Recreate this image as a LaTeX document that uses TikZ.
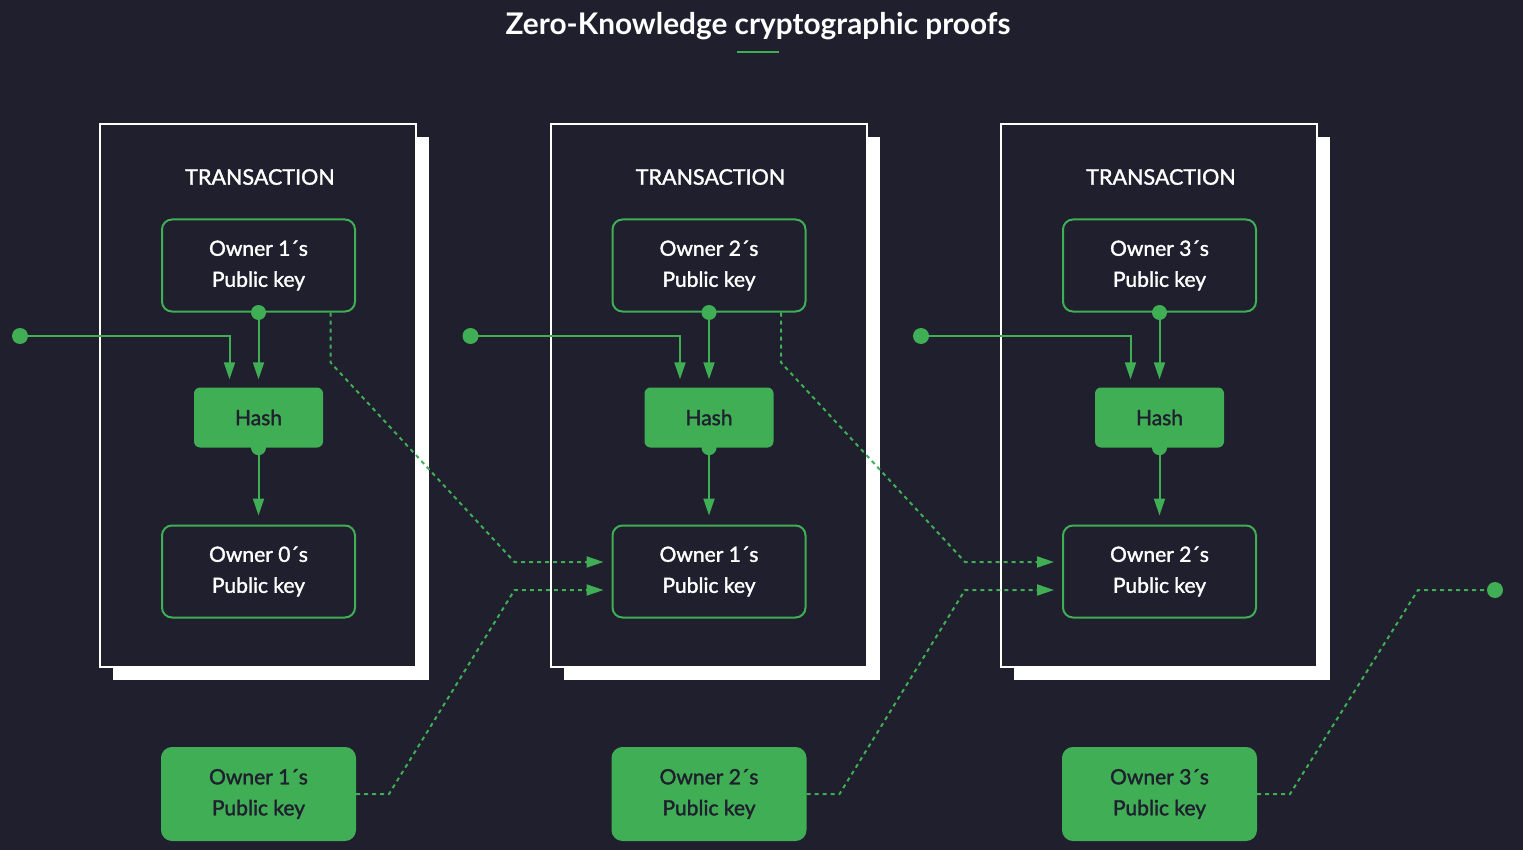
\documentclass[tikz,border=0pt]{standalone}
\usepackage{fontspec}
\setmainfont{Lato}[UprightFeatures={FakeBold=1.6}]
\usetikzlibrary{arrows.meta, calc}
\definecolor{bgdark}{HTML}{1F1F2D}
\definecolor{zkgreen}{HTML}{3FAE55}
\tikzset{
  keybox/.style={draw=zkgreen, line width=2pt, rounded corners=10pt, minimum width=193pt,
    minimum height=92pt, align=center, text=white, font=\fontsize{21}{31}\selectfont},
  fillbox/.style={keybox, fill=zkgreen, text=bgdark},
  hashbox/.style={fill=zkgreen, rounded corners=6pt, minimum width=129pt, minimum height=60pt,
    text=bgdark, font=\fontsize{21}{24}\selectfont},
  link/.style={zkgreen, line width=2pt, -{Triangle[length=17pt,width=11pt]}},
  dashlink/.style={link, dash pattern=on 4pt off 4pt},
  dot/.style={circle, fill=zkgreen, inner sep=0pt, minimum size=16pt},
}
\begin{document}
\begin{tikzpicture}[x=1pt, y=-1pt]
  \fill[bgdark] (0,0) rectangle (1523,850);
  % title
  \node[text=white, font=\bfseries\fontsize{29.8}{32}\selectfont] (title) at (758,26) {Zero-Knowledge cryptographic proofs};
  \draw[zkgreen, line width=2pt] (737,52) -- (779,52);
  % transaction columns
  \foreach \i/\top/\bot/\own in {0/1/0/1, 1/2/1/2, 2/3/2/3} {
    \begin{scope}[xshift=450.5*\i]
      \fill[white] (113,137) rectangle (429,680);
      \draw[white, fill=bgdark, line width=2pt] (100,124) rectangle (416,667);
      \node[text=white, font=\fontsize{21.5}{24}\selectfont] (tx\i) at (260,177) {TRANSACTION};
      \node[keybox] (top\i) at (258.5,265.5) {Owner \top´s\\Public key};
      \node[hashbox] (hash\i) at (258.5,417.5) {Hash};
      \node[keybox] (bot\i) at (258.5,571.5) {Owner \bot´s\\Public key};
      \node[fillbox] (own\i) at (258.5,794) {Owner \own´s\\Public key};
      \node[dot] (in\i) at (20,336) {};
      \coordinate (tap\i) at ($(top\i.south)+(72,0)$);
    \end{scope}
  }
  % solid links
  \foreach \i in {0,1,2} {
    \fill[zkgreen] (top\i.south) circle (7.5pt);
    \fill[zkgreen] (hash\i.south) circle (7.5pt);
    \draw[link, shorten >=8pt] (in\i.center) -| ($(hash\i.north)+(-29,0)$);
    \draw[link, shorten >=8pt] (top\i.south) -- (hash\i.north);
    \draw[link, shorten >=9pt] (hash\i.south) -- (bot\i.north);
  }
  % dashed links to the next transaction
  \foreach \i/\j in {0/1, 1/2} {
    \draw[dashlink, shorten >=8pt] (tap\i) -- ++(0,50) -- ($(bot\j.west)+(-97,-9.5)$) -- ($(bot\j.west)+(0,-9.5)$);
    \draw[dashlink, shorten >=8pt] (own\i.east) -- ++(33,0) -- ($(bot\j.west)+(-97,18.5)$) -- ($(bot\j.west)+(0,18.5)$);
  }
  \node[dot] (out) at (1495,590) {};
  \draw[zkgreen, line width=2pt, dash pattern=on 4pt off 4pt] (own2.east) -- ++(33,0) -- (1418,590) -- (out.center);
\end{tikzpicture}
\end{document}
